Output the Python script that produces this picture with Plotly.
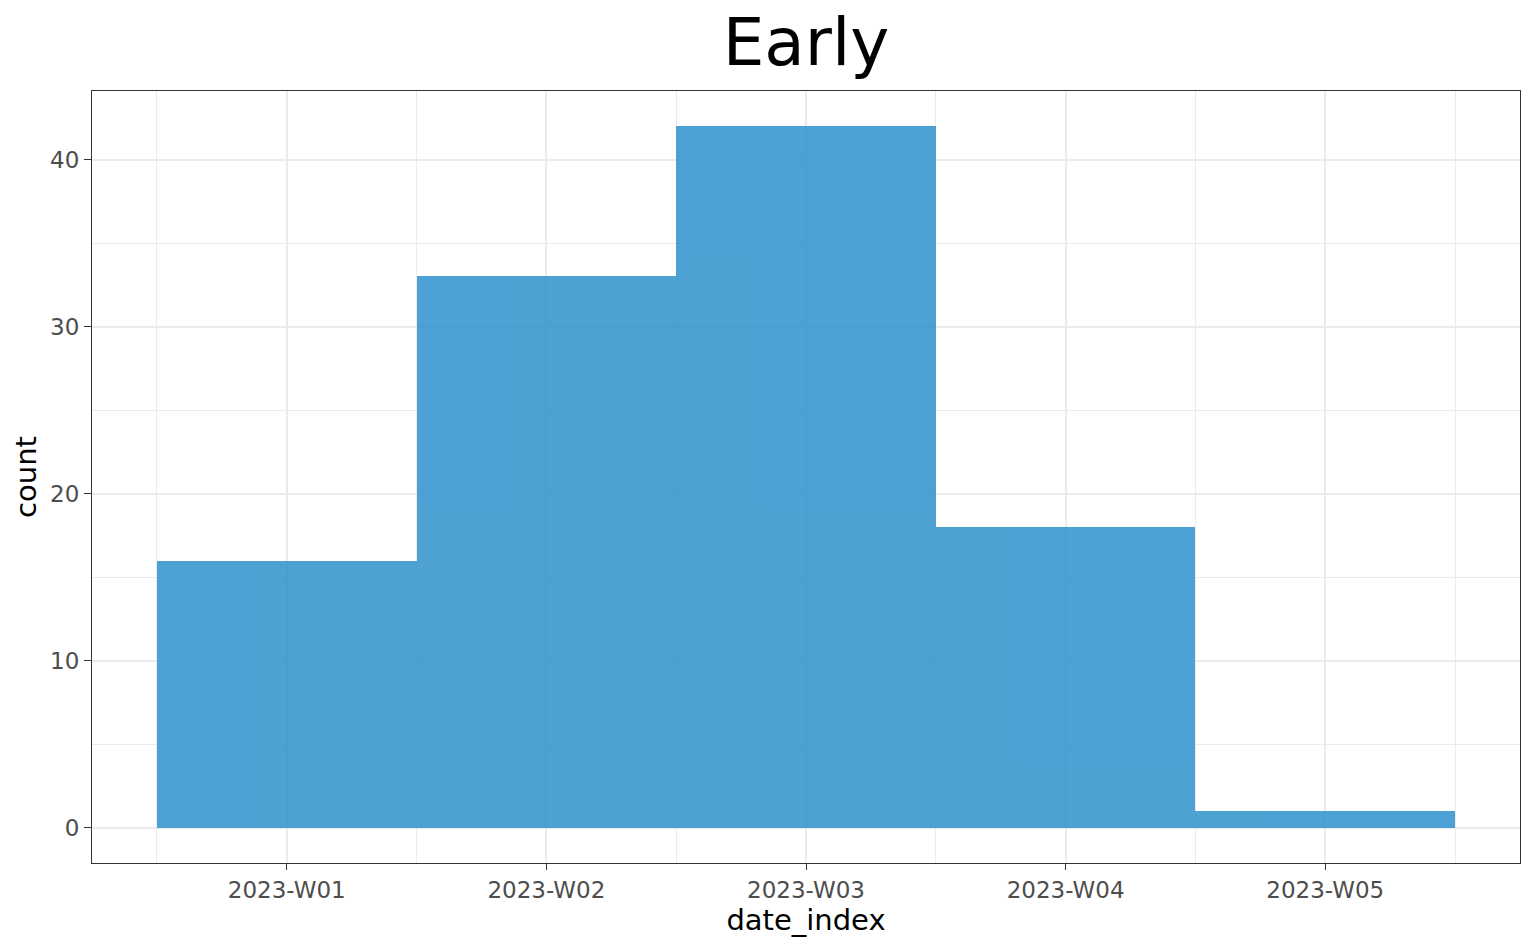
import plotly.graph_objects as go

# weekly counts
weeks = ["2023-W01", "2023-W02", "2023-W03", "2023-W04", "2023-W05"]
counts = [16, 33, 42, 18, 1]

positions = list(range(1, len(weeks) + 1))
half_steps = [p - 0.5 for p in positions] + [positions[-1] + 0.5]

fig = go.Figure(go.Bar(
    x=positions,
    y=counts,
    width=1,
    marker=dict(color="rgb(46,145,204)", line=dict(width=0)),
    opacity=0.85,
    hovertemplate="%{text}: %{y}<extra></extra>",
    text=weeks,
    textposition="none",
))

axis_font = dict(family="DejaVu Sans", size=23, color="#4D4D4D")
title_font = dict(family="DejaVu Sans", size=29, color="black")

fig.update_layout(
    width=1536, height=949,
    margin=dict(l=92, r=16, t=91, b=86),
    paper_bgcolor="white",
    plot_bgcolor="white",
    showlegend=False,
    bargap=0,
    font=dict(family="DejaVu Sans"),
    title=dict(text="Early", x=0.5, xref="paper", xanchor="center",
               y=0.9557, yref="container", yanchor="middle",
               font=dict(family="DejaVu Sans", size=66, color="black")),
    xaxis=dict(
        range=[0.25, 5.75],
        tickvals=positions, ticktext=weeks,
        tickfont=axis_font,
        ticks="outside", ticklen=6, tickwidth=1.4, tickcolor="#333333",
        showgrid=True, gridcolor="#EBEBEB", gridwidth=1.6,
        minor=dict(tickvals=half_steps, showgrid=True, gridcolor="#EBEBEB", gridwidth=0.8, ticks=""),
        showline=True, linecolor="#333333", linewidth=1.2, mirror=True,
        zeroline=False,
        automargin=False,
        title=dict(text="date_index", font=title_font, standoff=0),
    ),
    yaxis=dict(
        range=[-2.1, 44.1],
        tickvals=[0, 10, 20, 30, 40],
        tickfont=axis_font,
        ticks="outside", ticklen=7, tickwidth=1.4, tickcolor="#333333",
        showgrid=True, gridcolor="#EBEBEB", gridwidth=1.6,
        minor=dict(tickvals=[5, 15, 25, 35], showgrid=True, gridcolor="#EBEBEB", gridwidth=0.8, ticks=""),
        showline=True, linecolor="#333333", linewidth=1.2, mirror=True,
        zeroline=False,
        automargin=False,
        title=dict(text="count", font=title_font, standoff=4),
    ),
)

# drop the default body margin so the figure fills the window exactly
fig.write_html("out.html", config={"displayModeBar": False},
               post_script="document.body.style.margin='0';")
